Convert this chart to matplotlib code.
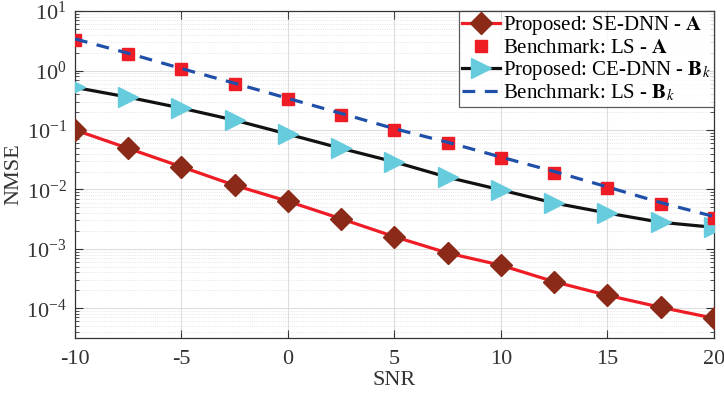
import numpy as np
import matplotlib
matplotlib.use("Agg")
import matplotlib.pyplot as plt
from matplotlib.ticker import LogLocator, NullFormatter

plt.rcParams["font.family"] = ["Liberation Serif", "DejaVu Serif"]
plt.rcParams["mathtext.fontset"] = "stix"
plt.rcParams["axes.unicode_minus"] = False

# ---------------------------------------------------------------------------
# Data
# ---------------------------------------------------------------------------
snr = [-10, -7.5, -5, -2.5, 0, 2.5, 5, 7.5, 10, 12.5, 15, 17.5, 20]

se_dnn_A = [0.10, 0.049, 0.024, 0.0117, 0.0063, 0.0032, 0.0016,
            0.00085, 0.00053, 0.00028, 0.000165, 0.000104, 0.000068]
ls_A = [3.3, 1.9, 1.06, 0.59, 0.33, 0.18, 0.10,
        0.060, 0.034, 0.019, 0.0105, 0.0057, 0.0033]
ce_dnn_B = [0.52, 0.356, 0.233, 0.146, 0.085, 0.049, 0.029,
            0.016, 0.0098, 0.0059, 0.0040, 0.0028, 0.0023]
ls_B = [3.4, 1.95, 1.08, 0.61, 0.34, 0.19, 0.105,
        0.062, 0.035, 0.020, 0.0110, 0.0060, 0.0035]

labels = [
    r"Proposed: SE-DNN - $\mathbf{A}$",
    r"Benchmark: LS - $\mathbf{A}$",
    r"Proposed: CE-DNN - $\mathbf{B}_k$",
    r"Benchmark: LS - $\mathbf{B}_k$",
]

fig = plt.figure(figsize=(7.24, 3.96), dpi=100)
ax = fig.add_axes([0.1036, 0.1465, 0.8824, 0.8255])

ax.semilogy(snr, se_dnn_A, color="#EE1C25", lw=2.3, marker="D",
            ms=11, mfc="#8B2A18", mec="#8B2A18", label=labels[0], zorder=3)
ax.semilogy(snr, ls_A, ls="none", marker="s", ms=9,
            mfc="#EE1C25", mec="#EE1C25", label=labels[1], zorder=4)
ax.semilogy(snr, ce_dnn_B, color="#111111", lw=2.3, marker=">",
            ms=14, mfc="#66CCDD", mec="#66CCDD", label=labels[2], zorder=3)
ax.semilogy(snr, ls_B, color="#1F4FA8", lw=2.3, ls=(0, (4, 3)),
            label=labels[3], zorder=5)

ax.set_xlim(-10, 20)
ax.set_ylim(10 ** -4.5, 10)
ax.set_xticks([-10, -5, 0, 5, 10, 15, 20])
ax.yaxis.set_major_locator(LogLocator(base=10, numticks=10))
ax.yaxis.set_minor_locator(LogLocator(base=10, subs=np.arange(2, 10), numticks=20))
ax.yaxis.set_minor_formatter(NullFormatter())

ax.grid(True, which="major", color="#DDDDDD", lw=0.8)
ax.grid(True, which="minor", axis="y", color="#DDDDDD", lw=0.6, ls=":")
ax.set_axisbelow(True)

ax.tick_params(which="both", direction="in", top=True, right=True,
               colors="#333333", labelsize=16)
ax.tick_params(which="major", length=6)
ax.tick_params(which="minor", length=3)
ax.tick_params(axis="x", pad=9)
ax.tick_params(axis="y", pad=6)
for s in ax.spines.values():
    s.set_color("#333333")
    s.set_linewidth(0.9)

ax.set_xlabel("SNR", fontsize=16, color="#333333", labelpad=1)
ax.set_ylabel("NMSE", fontsize=16, color="#333333", labelpad=2)

leg = ax.legend(loc="upper right", borderaxespad=0, fontsize=15,
                frameon=True, fancybox=False, edgecolor="#333333",
                handlelength=1.8, handletextpad=0.15, borderpad=0.15,
                labelspacing=0.05)
leg.get_frame().set_linewidth(0.9)

fig.savefig("out.png", dpi=100)
